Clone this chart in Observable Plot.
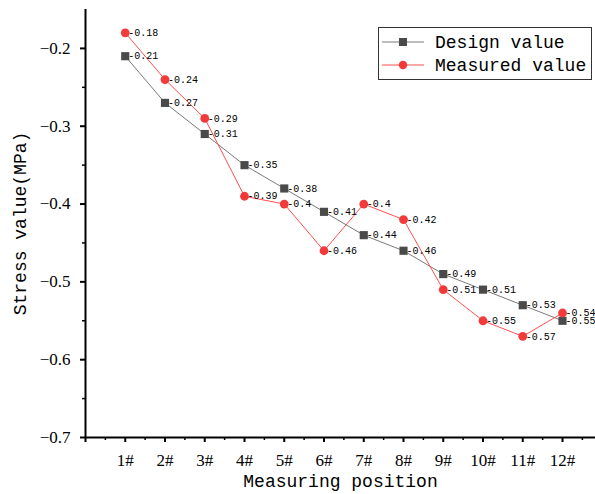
<!DOCTYPE html>
<html><head><meta charset="utf-8">
<script src="https://cdn.jsdelivr.net/npm/d3@7"></script>
<script src="https://cdn.jsdelivr.net/npm/@observablehq/plot@0.6"></script>
<style>
body{margin:0;background:#fff;}
#wrap{position:relative;width:595px;height:494px;overflow:hidden;}
#legend{position:absolute;left:378px;top:27px;}
</style></head>
<body><div id="wrap"></div>
<script>
const positions = [1,2,3,4,5,6,7,8,9,10,11,12];
const positionLabels = ["1#","2#","3#","4#","5#","6#","7#","8#","9#","10#","11#","12#"];
const designValues = [-0.21,-0.27,-0.31,-0.35,-0.38,-0.41,-0.44,-0.46,-0.49,-0.51,-0.53,-0.55];
const measuredValues = [-0.18,-0.24,-0.29,-0.39,-0.40,-0.46,-0.40,-0.42,-0.51,-0.55,-0.57,-0.54];
const yTicks = [-0.2,-0.3,-0.4,-0.5,-0.6,-0.7];
const yMinor = [-0.25,-0.35,-0.45,-0.55,-0.65];
const seriesNames = ["Design value","Measured value"];

const design = positions.map((p,i)=>({x:p,y:designValues[i],label:String(designValues[i])}));
const measured = positions.map((p,i)=>({x:p,y:measuredValues[i],label:String(measuredValues[i])}));
const xMinor = d3.range(0.5, 12.6, 1);

const gray = "#7a7a7a", grayM = "#4a4a4a", red = "#ff5050", redM = "#f23a3a";
const serif = "Liberation Serif", mono = "Liberation Mono";

const chart = Plot.plot({
  width: 595, height: 494,
  marginLeft: 85, marginRight: 0, marginTop: 9, marginBottom: 57,
  x: {type:"linear", domain:[0, 12.83]},
  y: {domain:[-0.7, -0.15]},
  style: {fontFamily: serif, background:"#fff", color:"#000", overflow:"visible"},
  marks: [
    Plot.axisX({ticks:[0,...positions], tickFormat: d => d===0 ? "" : positionLabels[d-1], tickSize:5, tickPadding:11, fontSize:17, fontFamily:serif, strokeWidth:2, label:null}),
    Plot.axisX({ticks:xMinor, tickFormat:()=>"", tickSize:3, strokeWidth:1.5, label:null}),
    Plot.axisY({ticks:yTicks, tickFormat: d => d.toFixed(1).replace("-","\u2212"), tickSize:5, tickPadding:10, fontSize:17, fontFamily:serif, strokeWidth:2, label:null}),
    Plot.axisY({ticks:yMinor, tickFormat:()=>"", tickSize:3, strokeWidth:1.5, label:null}),
    Plot.ruleY([-0.7], {stroke:"#000", strokeWidth:2}),
    Plot.ruleX([0], {stroke:"#000", strokeWidth:2}),
    Plot.line(design, {x:"x", y:"y", stroke:gray, strokeWidth:1}),
    Plot.line(measured, {x:"x", y:"y", stroke:red, strokeWidth:1}),
    Plot.dot(design, {x:"x", y:"y", symbol:"square", r:4.6, fill:grayM, stroke:null}),
    Plot.dot(measured, {x:"x", y:"y", symbol:"circle", r:4.4, fill:redM, stroke:null}),
    Plot.text(design, {x:"x", y:"y", text:"label", textAnchor:"start", dx:3, fontFamily:mono, fontSize:10, fill:"#000"}),
    Plot.text(measured, {x:"x", y:"y", text:"label", textAnchor:"start", dx:3, fontFamily:mono, fontSize:10, fill:"#000"}),
    Plot.text(["Measuring position"], {frameAnchor:"bottom", dy:44, fontFamily:mono, fontSize:18, fill:"#000", lineAnchor:"middle"}),
    Plot.text(["Stress value(MPa)"], {frameAnchor:"left", textAnchor:"middle", dx:-65, rotate:-90, fontFamily:mono, fontSize:18, fill:"#000"})
  ]
});
const wrap = document.getElementById("wrap");
wrap.appendChild(chart);

// legend
const lg = d3.create("svg").attr("id","legend").attr("width",215).attr("height",54);
lg.append("rect").attr("x",0.5).attr("y",0.5).attr("width",213).attr("height",52).attr("fill","#fff").attr("stroke","#333").attr("stroke-width",1);
const rows = [{name:seriesNames[0], line:gray, mk:grayM, sym:"square"},{name:seriesNames[1], line:red, mk:redM, sym:"circle"}];
rows.forEach((r,i)=>{
  const cy = 15 + i*23;
  lg.append("line").attr("x1",4).attr("x2",46).attr("y1",cy).attr("y2",cy).attr("stroke",r.line).attr("stroke-width",1);
  if(r.sym==="square") lg.append("rect").attr("x",21).attr("y",cy-4).attr("width",8).attr("height",8).attr("fill",r.mk);
  else lg.append("circle").attr("cx",25).attr("cy",cy).attr("r",4.2).attr("fill",r.mk);
  lg.append("text").attr("x",57).attr("y",cy).attr("dy","0.35em").attr("font-family",mono).attr("font-size",18).text(r.name);
});
wrap.appendChild(lg.node());
</script></body></html>
